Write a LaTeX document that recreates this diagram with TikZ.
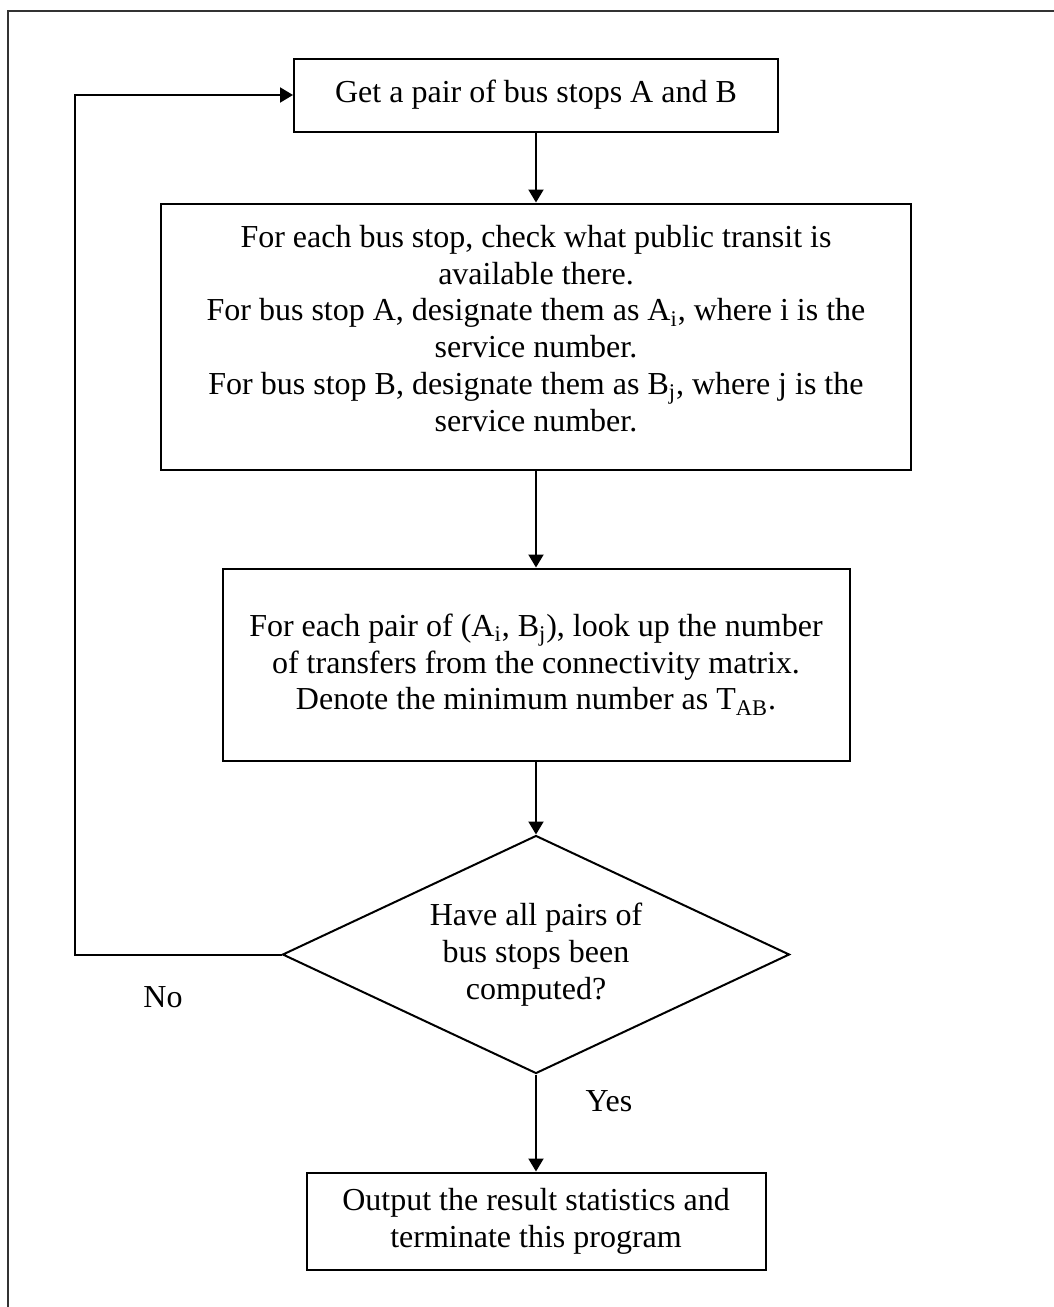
\documentclass[tikz,border=0pt]{standalone}
\usepackage{fontspec}
\setmainfont{Liberation Serif}
\usetikzlibrary{shapes.geometric,positioning,arrows.meta}

\begin{document}
\begin{tikzpicture}
	[
	  x=0.5pt, y=-0.5pt,
	  font=\fontsize{16}{18.4}\selectfont,
	  process/.style={draw, line width=1pt, align=center, inner sep=0pt},
	  decision/.style={draw, diamond, line width=1pt, aspect=2.13, inner sep=0pt,
	    minimum width=253.5pt, minimum height=119pt},
	  flow/.style={-{Triangle[length=6.5pt,width=7.5pt]}, line width=1pt},
	]
	\useasboundingbox (0,0) rectangle (1054,1307);
	\draw [line width=0.8pt, black!80] (8,1307) -- (8,11) -- (1054,11);

	\node (get) [process, minimum width=242pt, minimum height=36.5pt] at (536,95)
	  {Get a pair of bus stops A and B};
	\node (check) [process, below=35pt of get, minimum width=375pt, minimum height=133pt] {};
	\node (checktxt) [align=center, yshift=4pt] at (check)
	  {For each bus stop, check what public transit is\\
	   available there.\\
	   For bus stop A, designate them as A\textsubscript{i}, where i is the\\
	   service number.\\
	   For bus stop B, designate them as B\textsubscript{j}, where j is the\\
	   service number.};
	\node (lookup) [process, below=48.5pt of check, minimum width=313.5pt, minimum height=96pt]
	  {For each pair of (A\textsubscript{i}, B\textsubscript{j}), look up the number\\
	   of transfers from the connectivity matrix.\\
	   Denote the minimum number as T\textsubscript{AB}.};
	\node (done) [decision, below=36.5pt of lookup, align=center]
	  {Have all pairs of\\ bus stops been\\ computed?};
	\node (finish) [process, below=48.5pt of done, minimum width=229.5pt, minimum height=48.5pt]
	  {Output the result statistics and\\ terminate this program};

	\draw [flow] (get) -- (check);
	\draw [flow] (check) -- (lookup);
	\draw [flow] (lookup) -- (done);
	\draw [flow] (done) -- node (yes) [pos=0.28, right=21pt] {Yes} (finish);
	\draw [flow] (done.west) -- ++(-207,0) |- (get.west);
	\node (no) at (163,997) {No};
\end{tikzpicture}
\end{document}
